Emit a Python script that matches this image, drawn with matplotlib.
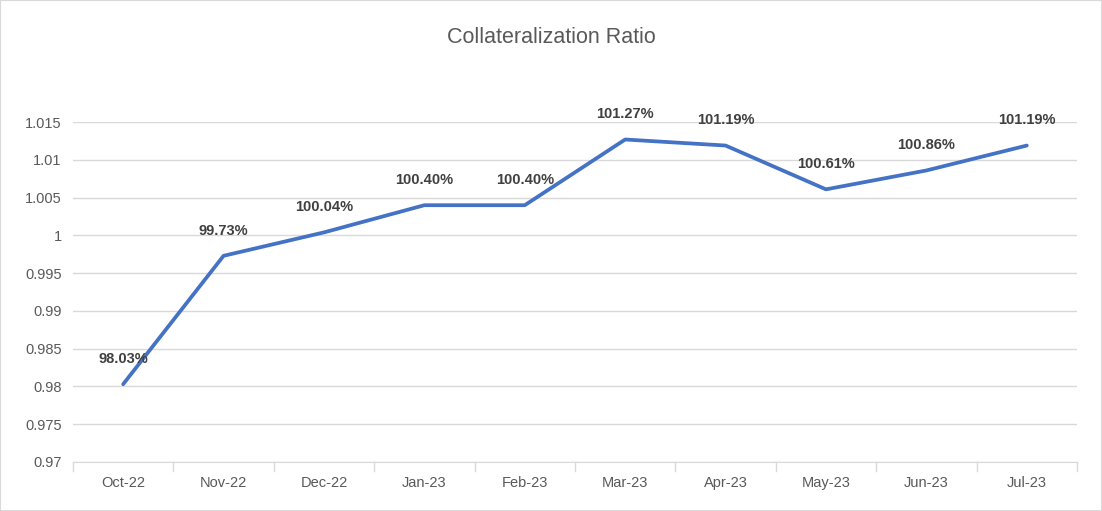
import matplotlib.pyplot as plt
from matplotlib.patches import Rectangle

months = ['Oct-22', 'Nov-22', 'Dec-22', 'Jan-23', 'Feb-23', 'Mar-23', 'Apr-23', 'May-23', 'Jun-23', 'Jul-23']
ratio = [0.9803, 0.9973, 1.0004, 1.0040, 1.0040, 1.0127, 1.0119, 1.0061, 1.0086, 1.0119]
labels = ['98.03%', '99.73%', '100.04%', '100.40%', '100.40%', '101.27%', '101.19%', '100.61%', '100.86%', '101.19%']
yticks = [0.97, 0.975, 0.98, 0.985, 0.99, 0.995, 1.0, 1.005, 1.01, 1.015]
ytick_labels = ['0.97', '0.975', '0.98', '0.985', '0.99', '0.995', '1', '1.005', '1.01', '1.015']

plt.rcParams['font.family'] = ['Liberation Sans', 'DejaVu Sans']

fig = plt.figure(figsize=(11.02, 5.11), dpi=100)
ax = fig.add_axes([0.0662, 0.0959, 0.9111, 0.6651])

x = list(range(len(months)))
ax.plot(x, ratio, color='#4472C4', linewidth=2.7, solid_capstyle='round', zorder=3)

for i in x:
    ax.annotate(labels[i], (i, ratio[i]), xytext=(0, 13), textcoords='offset points',
                ha='center', va='bottom', fontsize=10.5, fontweight='bold', color='#404040')

ax.set_xlim(-0.5, len(months) - 0.5)
ax.set_ylim(0.97, 1.015)
ax.set_xticks(x)
ax.set_xticklabels(months)
ax.set_yticks(yticks)
ax.set_yticklabels(ytick_labels)
ax.tick_params(axis='both', length=0, labelsize=10.5, colors='#595959', pad=8)
ax.tick_params(axis='x', pad=10)
ax.grid(axis='y', color='#D9D9D9', linewidth=1)
ax.set_axisbelow(True)
for s in ['top', 'right', 'left']:
    ax.spines[s].set_visible(False)
ax.spines['bottom'].set_color('#D9D9D9')

# category tick marks below axis
for i in range(len(months) + 1):
    ax.plot([i - 0.5, i - 0.5], [0.97, 0.9688], color='#D9D9D9', linewidth=1, clip_on=False)

fig.text(0.5, 0.927, 'Collateralization Ratio', ha='center', va='center', fontsize=15.5, color='#595959')
fig.patches.append(Rectangle((0, 0), 1, 1, transform=fig.transFigure, fill=False,
                             edgecolor='#D9D9D9', linewidth=1.5))

fig.savefig('out.png', dpi=100)
